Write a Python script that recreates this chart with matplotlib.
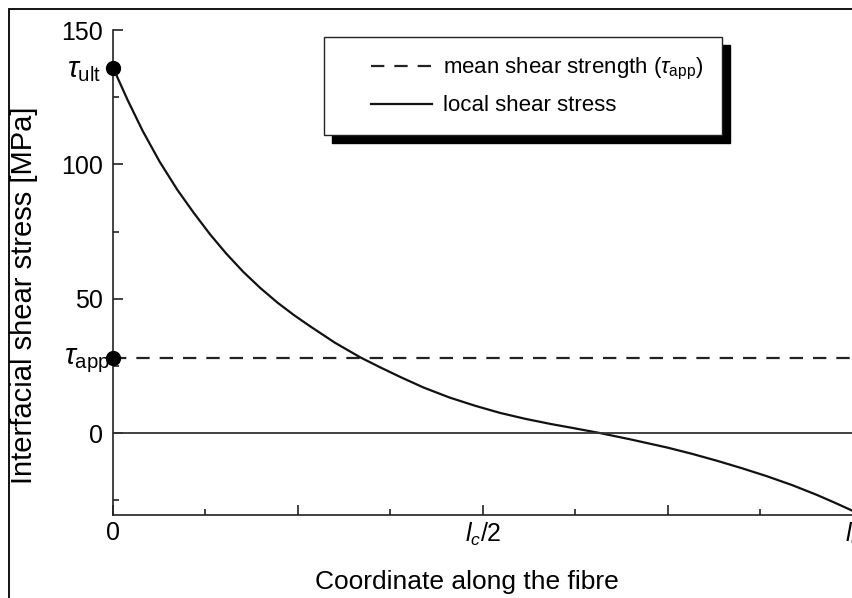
import matplotlib
matplotlib.use('Agg')
import matplotlib.pyplot as plt
from matplotlib.lines import Line2D
from matplotlib.legend_handler import HandlerLine2D
from matplotlib.patches import Rectangle

plt.rcParams['font.family'] = ['Liberation Sans', 'DejaVu Sans']
plt.rcParams['mathtext.fontset'] = 'custom'
plt.rcParams['mathtext.rm'] = 'Liberation Sans'
plt.rcParams['mathtext.it'] = 'Liberation Sans:italic'

# Data (x as fraction of the fibre length l_c)
x_pos = [0, 0.02, 0.04, 0.063, 0.087, 0.109, 0.131, 0.153, 0.176, 0.199,
         0.222, 0.244, 0.266, 0.30, 0.334, 0.36, 0.388, 0.42, 0.455, 0.49,
         0.523, 0.557, 0.591, 0.625, 0.658, 0.70, 0.749, 0.782, 0.816, 0.85,
         0.884, 0.918, 0.951, 0.976, 1.0]
local_stress = [136, 123.8, 112.5, 101, 90.5, 82, 74, 66.8, 60, 54,
                48.6, 44, 39.8, 33.6, 28.2, 24.6, 20.9, 16.9, 13.2, 10.1,
                7.5, 5.3, 3.4, 1.7, 0, -2.4, -5.4, -7.7, -10.3, -13.1,
                -16.1, -19.4, -23, -26, -29]
tau_ult = 136
tau_app = 28
line_x = [0, 1]

x_ticks = [0, 0.25, 0.5, 0.75, 1.0]
x_ticklabels = ['0', '', r'$l_c/2$', '', r'$l_c$']
y_ticks = [0, 50, 100, 150]

fig = plt.figure(figsize=(8.53, 5.98), dpi=100)
ax = fig.add_axes([113/853, 1 - 515/598, 740/853, 485/598])

# mean shear strength
ax.plot(line_x, [tau_app, tau_app], color='#222222', lw=1.6,
        linestyle=(0, (6, 4.5)), label=r'mean shear strength ($\tau_{\rm app}$)')
# local shear stress
ax.plot(x_pos, local_stress, color='#111111', lw=1.6, label='local shear stress')
# zero line
ax.plot(line_x, [0, 0], color='#333333', lw=1.3)

ax.plot([0, 0], [tau_ult, tau_app], 'o', color='black', ms=10, clip_on=False, zorder=5)

ax.set_xlim(0, 1)
ax.set_ylim(-30.5, 150)
ax.spines['top'].set_visible(False)
ax.spines['right'].set_visible(False)
for s in ['left', 'bottom']:
    ax.spines[s].set_linewidth(1.2)
    ax.spines[s].set_color('#222222')

ax.set_xticks(x_ticks)
ax.set_xticklabels(x_ticklabels)
ax.set_xticks([0.125, 0.375, 0.625, 0.875], minor=True)
ax.set_yticks(y_ticks)
ax.set_yticks([-25, 25, 75, 125], minor=True)
ax.tick_params(which='both', direction='in', width=1.2, color='#222222')
ax.tick_params(which='major', length=7, labelsize=18)
ax.tick_params(which='minor', length=4)
ax.tick_params(axis='y', which='major', pad=7)
ax.tick_params(axis='x', which='major', pad=4)

ax.text(-0.016, 132.5, r'$\tau_{\rm ult}$', transform=ax.get_yaxis_transform(),
        ha='right', va='baseline', fontsize=21)
ax.text(-0.004, 25.7, r'$\tau_{\rm app}$', transform=ax.get_yaxis_transform(),
        ha='right', va='baseline', fontsize=21)

ax.set_xlabel('Coordinate along the fibre', fontsize=19)
ax.xaxis.set_label_coords(0.478, -0.113)
ax.set_ylabel('Interfacial shear stress [MPa]', fontsize=21)
ax.yaxis.set_label_coords(-0.101, 0.4526)

leg = ax.legend(loc='upper left', bbox_to_anchor=(324/853, 1 - 37/598),
                bbox_transform=fig.transFigure, borderaxespad=0, fontsize=16,
                frameon=True, fancybox=False, edgecolor='#222222',
                borderpad=0.85, handlelength=4.0, handletextpad=0.5,
                labelspacing=0.6,
                shadow={'ox': 5.5, 'oy': -5.5, 'color': 'black', 'alpha': 1},
                handler_map={Line2D: HandlerLine2D(xpad=1.25)})
leg.get_frame().set_linewidth(1.0)

# scanned page frame
fig.patches.append(Rectangle((9/853, -0.1), 2, 1 - 9/598 + 0.1,
                             transform=fig.transFigure, fill=False,
                             lw=1.3, edgecolor='black'))

fig.savefig('out.png', dpi=100)
